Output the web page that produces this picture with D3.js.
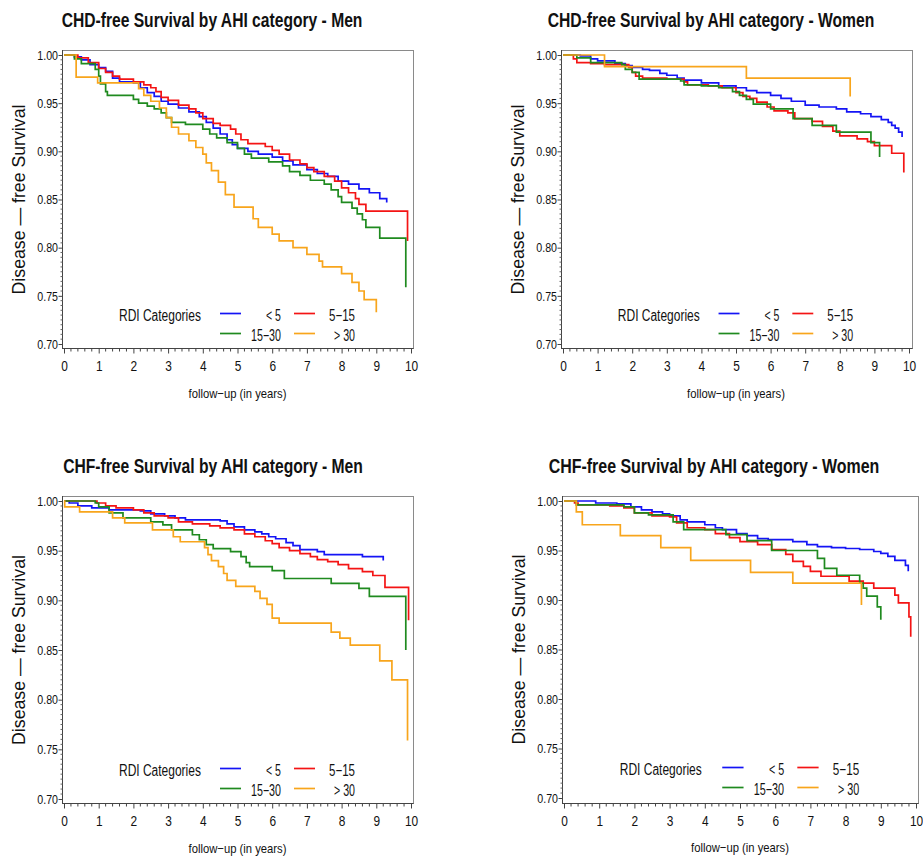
<!DOCTYPE html>
<html><head><meta charset="utf-8">
<script src="https://cdn.jsdelivr.net/npm/d3@7"></script>
<style>
body{margin:0;background:#fff;}
svg{display:block;}
text{font-family:"Liberation Sans",Arial,sans-serif;fill:#111;}
</style></head><body>
<svg id="chart" width="923" height="863"></svg>
<script>
// ---------- data ----------
const titles = [
  "CHD-free Survival by AHI category - Men",
  "CHD-free Survival by AHI category - Women",
  "CHF-free Survival by AHI category - Men",
  "CHF-free Survival by AHI category - Women"
];
const categories = ["< 5", "5\u221215", "15\u221230", "> 30"];
const colors = ["#1414f5", "#f41414", "#1f8a1f", "#f8a51c"];
const xTicks = [0,1,2,3,4,5,6,7,8,9,10];
const yTicks = [0.70,0.75,0.80,0.85,0.90,0.95,1.00];
const yTitle = "Disease \u2014 free  Survival";
const xTitle = "follow\u2212up  (in  years)";
const legendTitle = "RDI  Categories";

// CHD-free, Men  [years, survival]
const chdMenLt5 = [[0,1],[0.3,0.998],[0.5,0.995],[0.75,0.99],[1.0,0.987],[1.2,0.983],[1.4,0.976],[1.6,0.972],[2.0,0.971],[2.2,0.966],[2.4,0.961],[2.6,0.957],[2.8,0.952],[3.0,0.949],[3.3,0.945],[3.6,0.941],[3.9,0.936],[4.1,0.93],[4.3,0.924],[4.5,0.918],[4.7,0.912],[4.85,0.907],[5.0,0.903],[5.3,0.9],[5.6,0.897],[6.0,0.894],[6.3,0.89],[6.6,0.886],[7.0,0.881],[7.3,0.877],[7.6,0.874],[7.9,0.869],[8.2,0.866],[8.5,0.861],[8.8,0.857],[9.1,0.851],[9.3,0.847]];
const chdMen5to15 = [[0,1],[0.4,0.997],[0.7,0.992],[1.0,0.986],[1.2,0.982],[1.4,0.978],[1.6,0.975],[2.0,0.972],[2.3,0.969],[2.5,0.966],[2.65,0.962],[2.8,0.956],[3.0,0.953],[3.3,0.948],[3.6,0.944],[3.8,0.94],[4.0,0.934],[4.3,0.929],[4.5,0.927],[4.8,0.923],[4.95,0.918],[5.1,0.912],[5.3,0.908],[5.8,0.905],[6.0,0.901],[6.2,0.897],[6.5,0.891],[6.8,0.887],[7.0,0.883],[7.2,0.879],[7.5,0.874],[7.8,0.869],[8.0,0.862],[8.2,0.857],[8.4,0.851],[8.5,0.845],[8.7,0.838],[9.9,0.807]];
const chdMen15to30 = [[0,1],[0.3,0.996],[0.5,0.991],[0.9,0.985],[1.0,0.978],[1.05,0.97],[1.2,0.962],[1.25,0.958],[2.0,0.954],[2.15,0.95],[2.4,0.947],[2.6,0.944],[2.8,0.94],[2.95,0.935],[3.1,0.93],[3.5,0.928],[4.0,0.923],[4.2,0.918],[4.4,0.914],[4.7,0.909],[5.0,0.903],[5.2,0.897],[5.4,0.893],[5.9,0.889],[6.3,0.885],[6.5,0.879],[6.8,0.875],[7.1,0.87],[7.5,0.866],[7.7,0.86],[7.9,0.853],[8.0,0.847],[8.3,0.841],[8.45,0.835],[8.6,0.829],[8.7,0.821],[9.1,0.81],[9.85,0.759]];
const chdMenGt30 = [[0,1],[0.35,0.977],[0.97,0.971],[2.15,0.965],[2.3,0.958],[2.5,0.952],[2.75,0.945],[2.95,0.935],[3.1,0.925],[3.3,0.918],[3.6,0.911],[3.8,0.904],[4.0,0.897],[4.1,0.888],[4.25,0.88],[4.45,0.868],[4.65,0.855],[4.9,0.842],[5.45,0.83],[5.6,0.821],[6.0,0.814],[6.2,0.807],[6.6,0.8],[7.0,0.793],[7.35,0.786],[7.45,0.78],[8.0,0.773],[8.3,0.764],[8.5,0.755],[8.65,0.746],[9.0,0.733]];

// CHD-free, Women
const chdWomenLt5 = [[0,1],[0.5,0.999],[0.8,0.996],[1.0,0.994],[1.5,0.991],[1.8,0.989],[2.0,0.987],[2.3,0.985],[2.5,0.984],[2.8,0.981],[3.0,0.979],[3.3,0.976],[3.5,0.974],[4.0,0.971],[4.5,0.968],[5.0,0.966],[5.3,0.963],[5.6,0.961],[6.0,0.958],[6.3,0.955],[6.6,0.952],[7.0,0.948],[7.4,0.946],[7.9,0.944],[8.2,0.941],[8.6,0.939],[8.9,0.936],[9.2,0.933],[9.4,0.93],[9.5,0.927],[9.6,0.924],[9.7,0.92],[9.8,0.915]];
const chdWomen5to15 = [[0,1],[0.3,0.996],[0.4,0.992],[0.8,0.991],[1.2,0.99],[1.9,0.987],[2.0,0.982],[2.1,0.978],[2.3,0.976],[3.0,0.975],[3.5,0.972],[3.6,0.969],[4.2,0.968],[4.6,0.966],[5.0,0.961],[5.2,0.957],[5.4,0.955],[5.6,0.951],[5.9,0.946],[6.1,0.942],[6.5,0.94],[6.7,0.934],[7.2,0.931],[7.5,0.926],[7.8,0.921],[8.0,0.916],[8.5,0.913],[8.8,0.91],[9.0,0.906],[9.5,0.898],[9.85,0.878]];
const chdWomen15to30 = [[0,1],[0.4,0.997],[0.8,0.992],[1.7,0.99],[1.8,0.985],[2.0,0.982],[2.2,0.975],[3.4,0.973],[3.5,0.969],[4.0,0.968],[4.5,0.966],[4.9,0.962],[5.1,0.958],[5.3,0.954],[5.5,0.949],[6.0,0.944],[6.65,0.934],[7.2,0.927],[7.9,0.92],[8.9,0.909],[9.15,0.894]];
const chdWomenGt30 = [[0,1],[1.2,0.988],[5.3,0.976],[8.3,0.957]];

// CHF-free, Men
const chfMenLt5 = [[0,1],[0.15,0.998],[0.4,0.995],[0.8,0.993],[1.3,0.991],[2.2,0.99],[2.5,0.987],[2.9,0.985],[3.2,0.983],[3.5,0.981],[4.5,0.98],[4.7,0.977],[4.9,0.974],[5.2,0.971],[5.5,0.969],[5.7,0.967],[5.9,0.964],[6.1,0.962],[6.4,0.958],[6.6,0.955],[6.8,0.951],[7.3,0.949],[7.5,0.946],[8.6,0.944],[9.2,0.94]];
const chfMen5to15 = [[0,1],[0.95,0.998],[1.2,0.995],[1.5,0.993],[2.0,0.991],[2.3,0.988],[2.6,0.985],[3.0,0.983],[3.3,0.979],[3.7,0.977],[4.2,0.975],[4.5,0.973],[4.9,0.971],[5.2,0.967],[5.5,0.964],[5.8,0.96],[6.0,0.957],[6.2,0.953],[6.5,0.95],[6.8,0.947],[7.1,0.944],[7.3,0.941],[7.6,0.939],[7.9,0.936],[8.2,0.932],[8.6,0.929],[8.9,0.925],[9.25,0.913],[9.93,0.88]];
const chfMen15to30 = [[0,1],[0.9,0.998],[1.0,0.994],[1.3,0.988],[1.7,0.983],[2.5,0.979],[2.85,0.976],[3.1,0.971],[3.7,0.966],[3.9,0.961],[4.1,0.956],[4.3,0.952],[4.8,0.949],[5.1,0.944],[5.25,0.938],[5.35,0.934],[6.0,0.93],[6.35,0.922],[7.7,0.917],[8.5,0.912],[8.8,0.904],[9.85,0.85]];
const chfMenGt30 = [[0,1],[0.02,0.994],[0.45,0.989],[1.4,0.983],[1.75,0.978],[2.55,0.971],[3.15,0.964],[3.35,0.959],[4.05,0.953],[4.15,0.946],[4.25,0.94],[4.45,0.934],[4.6,0.927],[4.7,0.92],[4.95,0.914],[5.5,0.909],[5.65,0.902],[5.85,0.896],[6.0,0.882],[6.2,0.877],[7.7,0.868],[7.95,0.862],[8.25,0.855],[9.1,0.839],[9.45,0.82],[9.9,0.759]];

// CHF-free, Women
const chfWomenLt5 = [[0,1],[0.9,0.998],[1.5,0.997],[1.9,0.994],[2.2,0.991],[2.5,0.989],[2.8,0.987],[3.0,0.985],[3.3,0.981],[3.5,0.979],[4.0,0.976],[4.3,0.973],[4.5,0.971],[4.9,0.967],[5.2,0.965],[5.5,0.962],[5.8,0.961],[6.5,0.959],[6.9,0.956],[7.2,0.954],[7.6,0.953],[8.0,0.952],[8.4,0.951],[8.8,0.949],[9.0,0.947],[9.2,0.944],[9.4,0.94],[9.7,0.935],[9.78,0.929]];
const chfWomen5to15 = [[0,1],[0.3,0.998],[0.4,0.996],[1.3,0.995],[1.7,0.993],[2.0,0.988],[2.5,0.985],[3.0,0.984],[3.2,0.978],[3.5,0.973],[4.0,0.971],[4.3,0.967],[4.7,0.963],[5.0,0.959],[5.5,0.956],[5.9,0.951],[6.3,0.946],[6.5,0.939],[6.8,0.934],[7.0,0.929],[7.3,0.924],[7.8,0.924],[8.1,0.919],[8.5,0.917],[8.8,0.912],[9.4,0.905],[9.5,0.897],[9.8,0.883],[9.85,0.863]];
const chfWomen15to30 = [[0,1],[0.35,0.996],[1.7,0.994],[2.0,0.988],[2.4,0.986],[3.1,0.979],[3.4,0.971],[4.6,0.966],[5.2,0.96],[5.9,0.95],[7.2,0.942],[7.4,0.932],[7.75,0.925],[8.4,0.917],[8.5,0.912],[8.6,0.904],[8.9,0.893],[9.0,0.88]];
const chfWomenGt30 = [[0,1],[0.35,0.989],[0.52,0.976],[1.6,0.965],[2.75,0.953],[3.6,0.94],[5.3,0.928],[6.5,0.917],[8.45,0.895]];

// ---------- layout ----------
const panels = [
  {title: titles[0], series: [chdMenLt5, chdMen5to15, chdMen15to30, chdMenGt30],
   xr: [64, 411], yr: [344, 55], frame: [62, 50, 413, 348], titleX: 212, titleY: 27, titleW: 301},
  {title: titles[1], series: [chdWomenLt5, chdWomen5to15, chdWomen15to30, chdWomenGt30],
   xr: [563, 909], yr: [344, 55], frame: [561, 50, 912, 348], titleX: 711, titleY: 27, titleW: 327},
  {title: titles[2], series: [chfMenLt5, chfMen5to15, chfMen15to30, chfMenGt30],
   xr: [64, 411], yr: [799, 501], frame: [62, 496, 413, 803], titleX: 213, titleY: 473, titleW: 300},
  {title: titles[3], series: [chfWomenLt5, chfWomen5to15, chfWomen15to30, chfWomenGt30],
   xr: [564, 916], yr: [798, 501], frame: [562, 496, 918, 803], titleX: 714, titleY: 473, titleW: 331}
];

const svg = d3.select("#chart");

// place a horizontally condensed text: natural glyphs scaled along the text direction to a target width
function condensedText(parent, str, x, y, size, target, anchor, rotate, weight) {
  const t = parent.append("text").attr("text-anchor", anchor)
    .style("font-size", size + "px").style("font-weight", weight || "normal").text(str);
  const w = t.node().getComputedTextLength();
  const s = target / w;
  t.attr("transform", `translate(${x},${y})${rotate ? " rotate(" + rotate + ")" : ""} scale(${s},1)`);
  return t;
}

panels.forEach(p => {
  const g = svg.append("g");
  const x = d3.scaleLinear().domain([0, 10]).range(p.xr);
  const y = d3.scaleLinear().domain([0.70, 1.00]).range(p.yr);
  const [fl, ft, fr, fb] = p.frame;

  // title
  condensedText(g, p.title, p.titleX, p.titleY, 21, p.titleW, "middle", 0, "bold");

  // frame
  g.append("rect").attr("x", fl + 0.5).attr("y", ft + 0.5)
    .attr("width", fr - fl).attr("height", fb - ft)
    .attr("fill", "none").attr("stroke", "#8a8a8a").attr("stroke-width", 1);
  g.append("line").attr("x1", fl + 0.5).attr("x2", fl + 0.5).attr("y1", ft).attr("y2", fb + 0.5)
    .attr("stroke", "#444");
  g.append("line").attr("x1", fl).attr("x2", fr + 0.5).attr("y1", fb + 0.5).attr("y2", fb + 0.5)
    .attr("stroke", "#444");

  // y axis
  const yAxis = d3.axisLeft(y).tickValues(yTicks).tickFormat(d3.format(".2f"))
    .tickSize(4).tickPadding(1);
  const ya = g.append("g").attr("transform", `translate(${fl + 0.5},0)`).call(yAxis);
  ya.select(".domain").remove();
  ya.selectAll("text").style("font-size", "13px").style("font-family", null).attr("fill", "#111")
    .attr("x", 0).attr("transform", "translate(-4.5,0) scale(0.82,1)");
  ya.selectAll("line").attr("stroke", "#444");
  const yMinor = d3.range(0.705, 1.0, 0.005).filter(v => Math.abs(v * 20 - Math.round(v * 20)) > 1e-6);
  ya.selectAll(".minor").data(yMinor).enter().append("line")
    .attr("x1", -2).attr("x2", 0).attr("y1", d => y(d)).attr("y2", d => y(d))
    .attr("stroke", "#666");

  // x axis
  const xAxis = d3.axisBottom(x).tickValues(xTicks).tickFormat(d3.format("d"))
    .tickSize(5).tickPadding(8);
  const xa = g.append("g").attr("transform", `translate(0,${fb + 0.5})`).call(xAxis);
  xa.select(".domain").remove();
  xa.selectAll("text").style("font-size", "14px").style("font-family", null).attr("fill", "#111")
    .attr("transform", "scale(0.85,1)");
  xa.selectAll("line").attr("stroke", "#444");
  const xMinor = d3.range(0.2, 10, 0.2).filter(v => Math.abs(v - Math.round(v)) > 1e-6);
  xa.selectAll(".minor").data(xMinor).enter().append("line")
    .attr("x1", d => x(d)).attr("x2", d => x(d)).attr("y1", 0).attr("y2", 3)
    .attr("stroke", "#444");

  // axis titles
  const yMid = (p.yr[0] + p.yr[1]) / 2;
  condensedText(g, yTitle, p.xr[0] - 39, yMid, 18, 190, "middle", -90);
  condensedText(g, xTitle, (p.xr[0] + p.xr[1]) / 2, p.yr[0] + 54, 13, 98, "middle", 0);

  // curves
  const line = d3.line().x(d => x(d[0])).y(d => y(d[1])).curve(d3.curveStepAfter);
  p.series.forEach((s, i) => {
    g.append("path").datum(s).attr("d", line)
      .attr("fill", "none").attr("stroke", colors[i]).attr("stroke-width", 1.7)
      .attr("stroke-linejoin", "miter");
  });

  // legend
  const k = (p.xr[1] - p.xr[0]) / 347;
  const lx = p.xr[0];
  const r1 = p.yr[0] - 29, r2 = p.yr[0] - 9;
  condensedText(g, legendTitle, lx + 55 * k, r1 + 6, 16, 82, "start", 0);
  const items = [
    {c: 0, row: r1, l0: 156, l1: 177, tr: 217, w: 15},
    {c: 1, row: r1, l0: 230, l1: 251, tr: 291, w: 26},
    {c: 2, row: r2, l0: 156, l1: 177, tr: 217, w: 30},
    {c: 3, row: r2, l0: 230, l1: 251, tr: 291, w: 21}
  ];
  items.forEach(it => {
    g.append("line").attr("x1", lx + it.l0 * k).attr("x2", lx + it.l1 * k)
      .attr("y1", it.row - 1.5).attr("y2", it.row - 1.5)
      .attr("stroke", colors[it.c]).attr("stroke-width", 1.7);
    condensedText(g, categories[it.c], lx + it.tr * k, it.row + 6, 16, it.w * k, "end", 0);
  });
});
</script></body></html>
